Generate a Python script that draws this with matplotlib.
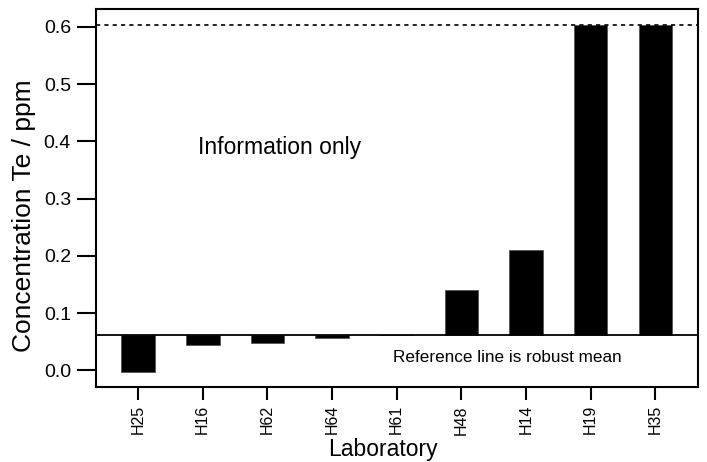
import numpy as np
import matplotlib
matplotlib.use("Agg")
import matplotlib.pyplot as plt

plt.rcParams["font.family"] = ["Liberation Sans", "DejaVu Sans"]

labs = ["H25", "H16", "H62", "H64", "H61", "H48", "H14", "H19", "H35"]
values = [-0.002, 0.045, 0.048, 0.057, 0.061, 0.141, 0.211, 0.603, 0.603]
ref_mean = 0.061
upper_line = 0.603

fig = plt.figure(figsize=(7.07, 4.62), dpi=100)
ax = fig.add_axes([96 / 707, 1 - 387 / 462, (698 - 96) / 707, (387 - 9) / 462])

x = np.arange(len(labs))
heights = [v - ref_mean for v in values]
ax.bar(x, heights, bottom=ref_mean, width=0.52, color="black", edgecolor="#555555", linewidth=0.6)

ax.axhline(ref_mean, color="black", linewidth=1.3)
ax.axhline(upper_line, color="black", linewidth=1.2, linestyle=(0, (2.5, 2.5)))

ax.set_xlim(-0.65, 8.66)
ax.set_ylim(-0.029, 0.631)
ax.set_xticks(x)
ax.set_xticklabels(labs, rotation=90, fontsize=11.5)
ax.set_yticks(np.arange(0, 0.61, 0.1))
ax.set_yticklabels(["%.1f" % t for t in np.arange(0, 0.61, 0.1)], fontsize=14)
ax.tick_params(axis="y", length=14, width=1.5, pad=4)
ax.tick_params(axis="x", length=9, width=1.5, pad=4)
for s in ax.spines.values():
    s.set_linewidth(1.5)

ax.set_ylabel("Concentration Te / ppm", fontsize=19)
ax.yaxis.set_label_coords(-0.1, 0.452)
ax.set_xlabel("Laboratory", fontsize=16.5)
ax.xaxis.set_label_coords(0.477, -0.135)

ax.text(0.93, 0.39, "Information only", fontsize=16.5, va="center", ha="left")
ax.text(5.71, 0.023, "Reference line is robust mean", fontsize=12.3, va="center", ha="center")

fig.savefig("out.png", dpi=100)
